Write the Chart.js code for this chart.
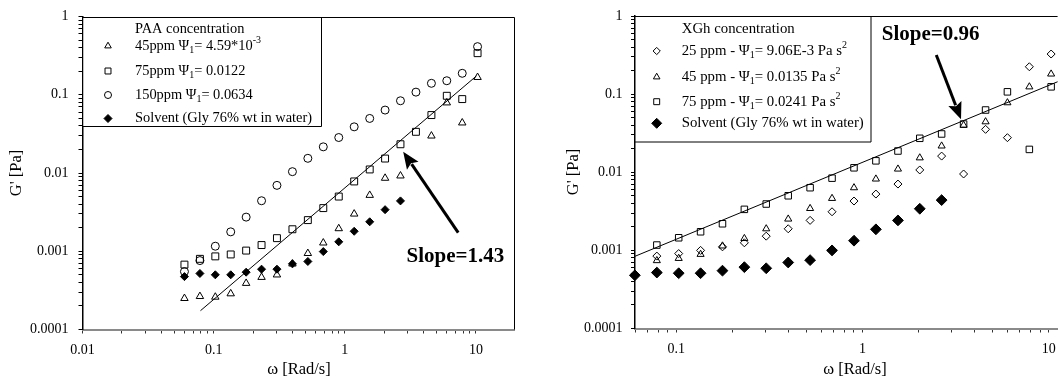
<!DOCTYPE html>
<html><head><meta charset="utf-8">
<script src="https://cdn.jsdelivr.net/npm/chart.js@4.4.0/dist/chart.umd.min.js"></script>
<style>
html,body{margin:0;padding:0;background:#fff;overflow:hidden;}
#wrap{position:relative;width:1064px;height:380px;overflow:hidden;background:#fff;}
#c1{position:absolute;left:0;top:0;width:532px;height:380px;}
#c2{position:absolute;left:532px;top:0;width:532px;height:380px;}
</style></head><body>
<div id="wrap"><canvas id="c1" width="532" height="380"></canvas><canvas id="c2" width="532" height="380"></canvas></div>
<script>
// ---------- data ----------
const freq = [0.0599,0.0786,0.103,0.135,0.177,0.232,0.304,0.399,0.523,0.686,0.9,1.18,1.55,2.03,2.66,3.49,4.58,6.0,7.87,10.3];

// Left panel: PAA
const paa45    = [2.5e-4,2.65e-4,2.6e-4,2.87e-4,3.9e-4,4.65e-4,5.0e-4,6.9e-4,9.4e-4,1.28e-3,1.95e-3,3.0e-3,5.2e-3,8.6e-3,9.2e-3,null,0.0298,0.079,0.0438,0.167];
const paa75    = [6.75e-4,8.0e-4,8.6e-4,9.1e-4,1.02e-3,1.2e-3,1.47e-3,1.91e-3,2.5e-3,3.56e-3,5.0e-3,7.8e-3,0.0111,0.0153,0.0233,0.0336,0.055,0.097,0.088,0.34];
const paa150   = [5.5e-4,7.6e-4,1.16e-3,1.77e-3,2.73e-3,4.42e-3,6.95e-3,0.0104,0.0154,0.0216,0.0284,0.0389,0.0498,0.0637,0.0838,0.108,0.140,0.151,0.188,0.412];
const solventL = [4.74e-4,5.2e-4,5.0e-4,5.0e-4,5.4e-4,5.9e-4,5.9e-4,6.9e-4,7.4e-4,9.9e-4,1.32e-3,1.8e-3,2.38e-3,3.4e-3,4.4e-3,null,null,null,null,null];
const fitLx = [0.0794, 10.1];
const fitLy = [1.74e-4, 0.174];

// Right panel: XGh
const xg25     = [null,8.45e-4,9.1e-4,1.0e-3,1.11e-3,1.25e-3,1.52e-3,1.89e-3,2.42e-3,3.12e-3,4.28e-3,5.26e-3,7.06e-3,0.0107,0.0161,9.5e-3,0.0354,0.0277,0.224,0.326];
const xg45     = [null,7.4e-4,7.9e-4,8.9e-4,1.14e-3,1.42e-3,1.89e-3,2.52e-3,3.44e-3,4.63e-3,6.34e-3,8.2e-3,0.011,0.0153,0.0217,0.040,0.0443,0.0776,0.124,0.181];
const xg75     = [null,1.17e-3,1.45e-3,1.73e-3,2.19e-3,3.35e-3,3.92e-3,5.0e-3,6.34e-3,8.4e-3,0.0114,0.014,0.0187,0.0272,0.0309,0.0414,0.0626,0.107,0.0196,0.124];
const solventR = [4.8e-4,5.2e-4,5.1e-4,5.1e-4,5.5e-4,6.1e-4,5.9e-4,7.0e-4,7.5e-4,1.0e-3,1.33e-3,1.86e-3,2.42e-3,3.41e-3,4.4e-3,null,null,null,null,null];
const fitRx = [0.06, 11.16];
const fitRy = [8.4e-4, 0.144];

// tick labels
const yMajors  = [0.0001, 0.001, 0.01, 0.1, 1];
const yLabels  = ['0.0001', '0.001', '0.01', '0.1', '1'];
const xMajorsL = [0.01, 0.1, 1, 10];
const xLabelsL = ['0.01', '0.1', '1', '10'];
const xMajorsR = [0.1, 1, 10];
const xLabelsR = ['0.1', '1', '10'];

// texts
const yTitle = "G' [Pa]";
const xTitle = "\u03C9 [Rad/s]";
const slopeL = 'Slope=1.43';
const slopeR = 'Slope=0.96';
const legendL = [
  [['PAA concentration','']],
  [['45ppm \u03A8',''],['1','sub'],['= 4.59*10',''],['-3','sup']],
  [['75ppm \u03A8',''],['1','sub'],['= 0.0122','']],
  [['150ppm \u03A8',''],['1','sub'],['= 0.0634','']],
  [['Solvent (Gly 76% wt in water)','']]
];
const legendR = [
  [['XGh concentration','']],
  [['25 ppm - \u03A8',''],['1','sub'],['= 9.06E-3 Pa s',''],['2','sup']],
  [['45 ppm - \u03A8',''],['1','sub'],['= 0.0135 Pa s',''],['2','sup']],
  [['75 ppm - \u03A8',''],['1','sub'],['= 0.0241 Pa s',''],['2','sup']],
  [['Solvent (Gly 76% wt in water)','']]
];

// ---------- helpers ----------
const FAM = "'Liberation Serif', 'Times New Roman', serif";
Chart.defaults.font.family = FAM;
Chart.defaults.color = '#000';

function pts(xs, ys) {
  const out = [];
  for (let i = 0; i < xs.length; i++) if (ys[i] != null) out.push({x: xs[i], y: ys[i]});
  return out;
}
function buildLogTicks(min, max) {
  const out = [];
  for (let e = Math.floor(Math.log10(min)); e <= Math.ceil(Math.log10(max)); e++) {
    for (let k = 1; k <= 9; k++) {
      const v = parseFloat((k * Math.pow(10, e)).toPrecision(8));
      if (v >= min * (1 - 1e-9) && v <= max * (1 + 1e-9)) out.push(v);
    }
  }
  return out;
}
function isIn(v, arr) { return arr.findIndex(m => Math.abs(v - m) <= m * 1e-6); }
function axis(kind, min, max, majors, labels, size, pad, borderColor, borderWidth, tickColor) {
  return {
    type: 'logarithmic', min: min, max: max, position: kind === 'x' ? 'bottom' : 'left',
    afterBuildTicks: s => { s.ticks = buildLogTicks(min, max).map(v => ({value: v, major: isIn(v, majors) >= 0})); },
    afterFit: s => {
      if (kind === 'x') s.height = size; else s.width = size;
      s.paddingTop = 0; s.paddingBottom = 0; s.paddingLeft = 0; s.paddingRight = 0;
    },
    ticks: {
      autoSkip: false, maxRotation: 0, minRotation: 0, padding: pad, color: '#000',
      font: {size: 14, family: FAM},
      callback: v => { const i = isIn(v, majors); return i >= 0 ? labels[i] : ''; }
    },
    grid: {display: true, drawOnChartArea: false, drawTicks: true, tickLength: 4, tickColor: tickColor, tickWidth: 1},
    border: {display: true, color: borderColor, width: borderWidth}
  };
}
function ds(label, data, style, radius, filled, extra) {
  return Object.assign({
    label: label, data: data, pointStyle: style, pointRadius: radius, pointHoverRadius: radius,
    pointBorderColor: '#000', pointBackgroundColor: filled ? '#000' : 'rgba(0,0,0,0)',
    borderColor: '#000', backgroundColor: filled ? '#000' : 'rgba(0,0,0,0)',
    pointBorderWidth: 1, showLine: false, clip: false
  }, extra || {});
}
function fitDs(xs, ys) {
  return {label: 'fit', data: pts(xs, ys), showLine: true, pointRadius: 0, borderColor: '#000', borderWidth: 1, fill: false, clip: false};
}
function rich(ctx, x, y, segs, size) {
  let cx = x;
  for (const [t, k] of segs) {
    const s = k ? Math.round(size * 0.68) : size;
    ctx.font = s + 'px ' + FAM;
    const dy = k === 'sub' ? size * 0.3 : (k === 'sup' ? -size * 0.36 : 0);
    ctx.fillText(t, cx, y + dy);
    cx += ctx.measureText(t).width;
  }
}
function marker(ctx, style, r, filled, x, y) {
  ctx.save();
  ctx.strokeStyle = '#000';
  ctx.fillStyle = filled ? '#000' : 'rgba(0,0,0,0)';
  ctx.lineWidth = 1;
  Chart.helpers.drawPoint(ctx, {pointStyle: style, radius: r, rotation: 0, borderWidth: 1}, x, y);
  ctx.restore();
}
function arrow(ctx, x1, y1, x2, y2, headLen, headW, lw) {
  const a = Math.atan2(y2 - y1, x2 - x1);
  const bx = x2 - headLen * Math.cos(a), by = y2 - headLen * Math.sin(a);
  ctx.lineWidth = lw; ctx.lineCap = 'butt';
  ctx.beginPath(); ctx.moveTo(x1, y1); ctx.lineTo(bx + 2 * Math.cos(a), by + 2 * Math.sin(a)); ctx.stroke();
  ctx.beginPath(); ctx.moveTo(x2, y2);
  ctx.lineTo(bx + headW / 2 * Math.sin(a), by - headW / 2 * Math.cos(a));
  ctx.lineTo(bx + 3 * Math.cos(a), by + 3 * Math.sin(a));
  ctx.lineTo(bx - headW / 2 * Math.sin(a), by + headW / 2 * Math.cos(a));
  ctx.closePath(); ctx.fill();
}

function decoPlugin(c) {
  return {
    id: 'deco',
    afterDatasetsDraw(chart) {
      const ctx = chart.ctx, A = chart.chartArea, xs = chart.scales.x, ys = chart.scales.y;
      ctx.save();
      ctx.strokeStyle = '#000'; ctx.fillStyle = '#000'; ctx.lineWidth = 1;
      const t = Math.round(A.top) + 0.5;
      ctx.beginPath(); ctx.moveTo(A.left, t); ctx.lineTo(A.right, t);
      if (c.frameRight) { const r = Math.round(A.right) - 0.5; ctx.moveTo(r, t); ctx.lineTo(r, A.bottom); }
      ctx.stroke();
      // legend box
      const L = c.legend;
      ctx.fillStyle = '#fff';
      ctx.fillRect(A.left + 1, t + 0.5, L.right - A.left - 1, L.bottom - t - 0.5);
      ctx.beginPath();
      ctx.moveTo(L.right + 0.5, t); ctx.lineTo(L.right + 0.5, L.bottom + 0.5); ctx.lineTo(A.left, L.bottom + 0.5);
      ctx.stroke();
      ctx.fillStyle = '#000'; ctx.textBaseline = 'middle'; ctx.textAlign = 'left';
      L.rows.forEach((row, i) => {
        rich(ctx, L.textX, L.ys[i], row, L.size);
        const m = L.markers[i];
        if (m) marker(ctx, m[0], m[1], m[2], L.markX, L.ys[i]);
      });
      // arrow + slope text
      ctx.fillStyle = '#000'; ctx.strokeStyle = '#000';
      arrow(ctx, xs.getPixelForValue(c.arrow[0]), ys.getPixelForValue(c.arrow[1]),
                 xs.getPixelForValue(c.arrow[2]), ys.getPixelForValue(c.arrow[3]), 17, 14, 3);
      ctx.font = 'bold 21px ' + FAM; ctx.textBaseline = 'middle'; ctx.textAlign = 'left';
      ctx.fillText(c.slope, xs.getPixelForValue(c.slopePos[0]), ys.getPixelForValue(c.slopePos[1]));
      ctx.restore();
    },
    afterDraw(chart) {
      const ctx = chart.ctx;
      ctx.save();
      ctx.fillStyle = '#000'; ctx.font = '16.5px ' + FAM; ctx.textAlign = 'center'; ctx.textBaseline = 'middle';
      ctx.fillText(xTitle, c.xTitle[0], c.xTitle[1]);
      ctx.translate(c.yTitle[0], c.yTitle[1]); ctx.rotate(-Math.PI / 2);
      ctx.fillText(yTitle, 0, 0);
      ctx.restore();
    }
  };
}

const common = {
  responsive: false, animation: false, events: [],
  plugins: {legend: {display: false}, tooltip: {enabled: false}}
};

// ---------- left chart ----------
new Chart(document.getElementById('c1'), {
  type: 'scatter',
  data: {datasets: [
    ds('45ppm', pts(freq, paa45), 'triangle', 4.3, false),
    ds('75ppm', pts(freq, paa75), 'rect', 4.9, false),
    ds('150ppm', pts(freq, paa150), 'circle', 4, false),
    ds('Solvent', pts(freq, solventL), 'rectRot', 4, true),
    fitDs(fitLx, fitLy)
  ]},
  options: Object.assign({}, common, {
    layout: {padding: {left: 0, top: 16.5, right: 17.5, bottom: 0}},
    scales: {
      x: axis('x', 0.01, 19.7, xMajorsL, xLabelsL, 50.5, 8, '#8a8a8a', 2, '#333'),
      y: axis('y', 0.0001, 1, yMajors, yLabels, 82.5, 10, '#000', 1.5, '#000')
    }
  }),
  plugins: [decoPlugin({
    frameRight: true,
    legend: {right: 321, bottom: 126, textX: 135, markX: 108, size: 14.4, ys: [29, 46, 71, 95, 118.5],
             rows: legendL, markers: [null, ['triangle', 3.8, false], ['rect', 4.2, false], ['circle', 3.5, false], ['rectRot', 4, true]]},
    arrow: [7.33, 1.73e-3, 2.79, 0.0187],
    slope: slopeL, slopePos: [2.96, 8.5e-4],
    xTitle: [299, 370], yTitle: [17, 173]
  })]
});

// ---------- right chart ----------
new Chart(document.getElementById('c2'), {
  type: 'scatter',
  data: {datasets: [
    ds('25ppm', pts(freq, xg25), 'rectRot', 4, false),
    ds('45ppm', pts(freq, xg45), 'triangle', 4.1, false),
    ds('75ppm', pts(freq, xg75), 'rect', 4.6, false),
    ds('Solvent', pts(freq, solventR), 'rectRot', 5.4, true),
    fitDs(fitRx, fitRy)
  ]},
  options: Object.assign({}, common, {
    layout: {padding: {left: 0, top: 16, right: 0, bottom: 0}},
    scales: {
      x: axis('x', 0.06, 11.16, xMajorsR, xLabelsR, 51.5, 8, '#8a8a8a', 2, '#333'),
      y: axis('y', 0.0001, 1, yMajors, yLabels, 103, 8.5, '#000', 1.5, '#000')
    }
  }),
  plugins: [decoPlugin({
    frameRight: false,
    legend: {right: 338.5, bottom: 141.5, textX: 149.7, markX: 124.7, size: 14.8, ys: [29.3, 51, 77, 101.7, 123.3],
             rows: legendR, markers: [null, ['rectRot', 3.6, false], ['triangle', 3.8, false], ['rect', 4.2, false], ['rectRot', 5, true]]},
    arrow: [2.49, 0.317, 3.38, 0.0476],
    slope: slopeR, slopePos: [1.27, 0.571],
    xTitle: [323, 370], yTitle: [41.5, 172]
  })]
});
</script>
</body></html>
